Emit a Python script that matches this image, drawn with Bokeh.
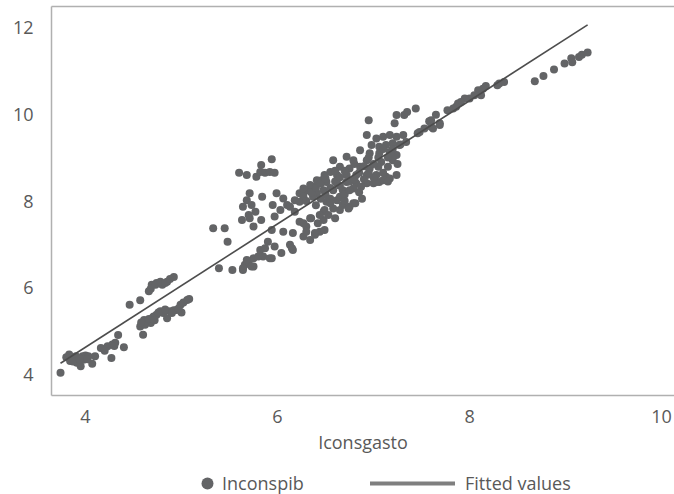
from bokeh.plotting import figure
from bokeh.layouts import column
from bokeh.models import LinearAxis, FixedTicker, Legend, LegendItem, Range1d
from bokeh.embed import file_html
from bokeh.resources import INLINE

# ---- texts / ticks ----
x_label = "Iconsgasto"
series_points = "Inconspib"
series_fit = "Fitted values"
x_ticks = [4, 6, 8, 10]
y_ticks = [4, 6, 8, 10, 12]

# ---- scatter data ----
lconsgasto = [
    3.74, 3.83, 3.86, 3.90, 3.93, 3.97, 4.00, 4.03, 3.84, 3.88, 3.91, 3.95, 4.07, 3.98, 4.10,
    4.16, 4.23, 4.28, 4.31, 4.34, 4.27, 4.40, 3.80, 3.87, 3.94, 4.02, 4.20, 4.30,
    4.46, 4.57, 4.66, 4.69, 4.74, 4.80, 4.85, 4.92, 4.68, 4.73, 4.78, 4.83, 4.88,
    4.57, 4.60, 4.61, 4.64, 4.68, 4.71, 4.74, 4.78, 4.81, 4.85, 4.88, 4.92, 4.95, 5.00,
    4.99, 5.02, 5.06, 5.08, 4.62, 4.70, 4.76, 4.83, 4.58, 4.66, 4.72, 4.90, 4.97,
    5.39, 5.53, 5.64, 5.66, 5.70, 5.75, 5.75, 5.85, 5.94, 6.04, 6.16, 5.64, 5.68, 5.73,
    5.80, 5.82, 5.87, 5.92, 5.90, 5.97, 6.13, 6.15,
    5.33, 5.45, 5.48, 5.60, 5.68, 5.78, 5.82, 5.87, 5.92, 5.97, 5.83, 5.94, 5.71, 5.84,
    5.68, 5.64, 5.73, 5.77, 5.70, 5.63, 5.71, 5.83, 5.75, 5.95, 5.99, 6.06, 6.03, 5.97,
    6.10, 6.13, 6.18, 6.23, 6.27, 6.32, 6.37, 6.42, 6.46, 6.49, 6.41, 6.23, 6.18, 5.94,
    6.06, 6.16, 6.23, 6.30, 6.35, 6.27, 6.34, 6.39, 6.44, 6.49, 6.42, 6.49, 6.48,
    6.95, 7.44, 7.35, 7.24, 7.22, 7.65, 7.77, 7.60, 7.53, 7.46, 6.93, 7.03, 7.10, 7.17,
    7.24, 7.31, 7.34, 7.27, 7.20, 7.13, 7.06, 6.98, 6.86, 6.96, 7.06, 7.17, 7.24, 6.72,
    6.58, 6.79, 6.93, 7.08, 7.20, 6.65, 6.75, 6.86, 6.96, 7.05, 7.15, 6.55, 6.62, 6.72,
    6.82, 6.93, 7.03, 7.13, 7.24, 6.41, 6.51, 6.62, 6.72, 6.82, 6.93, 7.00, 7.06, 6.34,
    6.27, 6.37, 6.48, 6.58, 6.68, 6.79, 6.87, 6.27, 6.37, 6.51, 6.62, 6.68, 6.79, 6.58,
    6.48, 6.44, 6.53, 6.65, 6.75, 6.34, 6.27, 6.30, 6.39,
    8.68, 8.77, 8.88, 8.99, 9.06, 9.07, 9.14, 9.17, 9.23, 8.31, 8.36, 8.29, 8.17, 8.14,
    8.09, 8.12, 8.05, 8.00, 7.95, 7.91, 7.88, 7.83, 7.86, 7.32, 7.58, 7.69, 7.62, 7.48,
    6.65, 6.74, 6.81, 7.17, 7.10, 7.03, 7.20, 7.60, 7.69,
    6.30, 6.35, 6.40, 6.45, 6.45, 6.50, 6.50, 6.55, 6.55, 6.60, 6.60, 6.65, 6.65, 6.70,
    6.70, 6.75, 6.75, 6.80, 6.80, 6.85, 6.85, 6.90, 6.90, 6.95, 6.95, 7.00, 7.00, 7.05,
    7.10, 7.10, 7.15, 7.15, 7.20, 7.25, 7.28, 6.40, 6.55, 6.60, 6.70, 6.88,
]
lconspib = [
    4.04, 4.46, 4.38, 4.42, 4.38, 4.42, 4.44, 4.42, 4.31, 4.34, 4.27, 4.19, 4.25, 4.34, 4.42,
    4.61, 4.65, 4.69, 4.73, 4.91, 4.38, 4.63, 4.40, 4.30, 4.35, 4.35, 4.55, 4.66,
    5.61, 5.71, 5.92, 6.07, 6.11, 6.07, 6.14, 6.25, 5.98, 6.07, 6.14, 6.11, 6.20,
    5.11, 4.92, 5.26, 5.23, 5.19, 5.34, 5.38, 5.46, 5.42, 5.30, 5.46, 5.48, 5.49, 5.43,
    5.61, 5.66, 5.72, 5.74, 5.15, 5.31, 5.43, 5.50, 5.20, 5.28, 5.25, 5.42, 5.52,
    6.45, 6.41, 6.41, 6.53, 6.60, 6.68, 6.49, 6.72, 6.68, 6.80, 6.87, 6.45, 6.64, 6.49,
    6.72, 6.87, 6.91, 6.68, 7.06, 6.95, 6.99, 6.91,
    7.37, 7.37, 7.06, 8.65, 8.60, 8.56, 8.67, 8.65, 8.67, 8.65, 8.83, 8.96, 8.18, 8.10,
    8.02, 7.87, 7.91, 7.75, 7.68, 7.56, 7.60, 7.56, 7.41, 7.91, 8.18, 8.06, 7.79, 7.64,
    7.91, 7.87, 8.02, 7.98, 8.18, 8.25, 8.33, 8.41, 8.48, 8.60, 8.18, 8.18, 7.75, 7.33,
    7.29, 7.26, 7.52, 7.41, 7.60, 7.18, 7.10, 7.22, 7.29, 7.33, 7.49, 7.79, 7.56,
    9.86, 10.13, 10.05, 9.98, 9.79, 9.99, 10.09, 9.86, 9.67, 9.56, 9.52, 9.44, 9.48, 9.52,
    9.48, 9.52, 9.36, 9.29, 9.33, 9.29, 9.25, 9.29, 9.17, 9.10, 9.10, 9.13, 9.06, 9.02,
    8.94, 8.94, 8.94, 8.90, 8.94, 8.79, 8.75, 8.79, 8.75, 8.79, 8.79, 8.67, 8.60, 8.60,
    8.60, 8.60, 8.60, 8.56, 8.60, 8.48, 8.44, 8.41, 8.44, 8.41, 8.41, 8.41, 8.44, 8.37,
    8.29, 8.21, 8.25, 8.25, 8.25, 8.29, 8.33, 8.10, 8.10, 7.98, 8.02, 7.91, 7.95, 7.83,
    7.75, 7.68, 7.68, 7.79, 7.87, 7.60, 7.49, 7.29, 7.26,
    10.76, 10.88, 11.03, 11.17, 11.29, 11.20, 11.32, 11.37, 11.42, 10.71, 10.74, 10.67, 10.65, 10.59,
    10.55, 10.44, 10.44, 10.36, 10.36, 10.28, 10.25, 10.13, 10.17, 9.98, 9.84, 9.75, 9.67, 9.59,
    8.10, 7.83, 7.95, 8.52, 8.48, 8.44, 9.02, 9.71, 9.79,
    8.00, 8.20, 8.30, 8.05, 8.40, 8.15, 8.52, 8.30, 8.05, 8.45, 8.70, 8.35, 8.55, 8.15,
    8.70, 8.45, 8.25, 8.85, 8.50, 8.65, 8.20, 8.50, 8.80, 8.65, 9.00, 8.55, 8.85, 9.00,
    8.65, 9.20, 9.00, 8.45, 9.20, 8.85, 9.30, 7.90, 7.95, 7.60, 8.00, 8.05,
]

# ---- fitted line (end points) ----
fit_x = [3.74, 9.23]
fit_y = [4.26, 12.06]

FONT = "Open Sans"
TXT = "#595959"
AXC = "#b0b0b0"
PT = "#636466"

p = figure(width=674, height=456, output_backend="svg", toolbar_location=None,
           x_range=Range1d(3.646, 10.135), y_range=Range1d(3.517, 12.483),
           min_border_left=51, min_border_right=0, min_border_top=6, min_border_bottom=60)
p.outline_line_color = None
p.grid.visible = False

pts = p.scatter(lconsgasto, lconspib, size=8, fill_color=PT, line_color=None)
fit = p.line(fit_x, fit_y, line_width=1.6, line_color="#4d4d4d")

for ax in (p.xaxis[0], p.yaxis[0]):
    ax.major_tick_line_color = None
    ax.minor_tick_line_color = None
    ax.major_tick_out = 0
    ax.major_tick_in = 0
    ax.axis_line_color = AXC
    ax.axis_line_width = 1.5
    ax.major_label_text_font = FONT
    ax.major_label_text_font_size = "18px"
    ax.major_label_text_color = TXT

p.xaxis.ticker = FixedTicker(ticks=x_ticks)
p.yaxis.ticker = FixedTicker(ticks=y_ticks)
p.xaxis.major_label_standoff = 14
p.yaxis.major_label_standoff = 18
p.xaxis.axis_label = x_label
p.xaxis.axis_label_text_font = FONT
p.xaxis.axis_label_text_font_size = "18px"
p.xaxis.axis_label_text_font_style = "normal"
p.xaxis.axis_label_text_color = TXT
p.xaxis.axis_label_standoff = 4

top = LinearAxis(ticker=FixedTicker(ticks=[]), major_tick_line_color=None,
                 minor_tick_line_color=None, major_tick_out=0, major_tick_in=0,
                 major_label_standoff=0, major_label_text_font_size="0px",
                 axis_line_color=AXC, axis_line_width=1.5)
p.add_layout(top, "above")

# ---- legend strip (its frame is aligned with the main frame by the column) ----
lg = figure(width=674, height=38, output_backend="svg", toolbar_location=None,
            x_axis_type=None, y_axis_type=None, min_border=0,
            x_range=Range1d(0, 1), y_range=Range1d(0, 1))
lg.outline_line_color = None
lg.grid.visible = False
# key renderers: same data, but outside this strip's view, so only their legend keys show
key_pts = lg.scatter(lconsgasto, lconspib, size=8, fill_color=PT, line_color=None)
key_fit = lg.line(fit_x, fit_y, line_width=4, line_color="#7f7f7f", line_cap="round")

common = dict(orientation="horizontal", padding=0, margin=0, spacing=0,
              border_line_color=None, background_fill_alpha=0,
              label_text_font=FONT, label_text_font_size="18px", label_text_color=TXT,
              glyph_height=30, label_height=30)
leg1 = Legend(items=[LegendItem(label=series_points, renderers=[key_pts])],
              location=(141, -4), glyph_width=30, label_standoff=0, **common)
leg2 = Legend(items=[LegendItem(label=series_fit, renderers=[key_fit])],
              location=(319, -4), glyph_width=85, label_standoff=10, **common)
lg.add_layout(leg1)
lg.add_layout(leg2)

layout = column(p, lg, spacing=0)
open("out.html", "w").write(file_html(layout, INLINE))
